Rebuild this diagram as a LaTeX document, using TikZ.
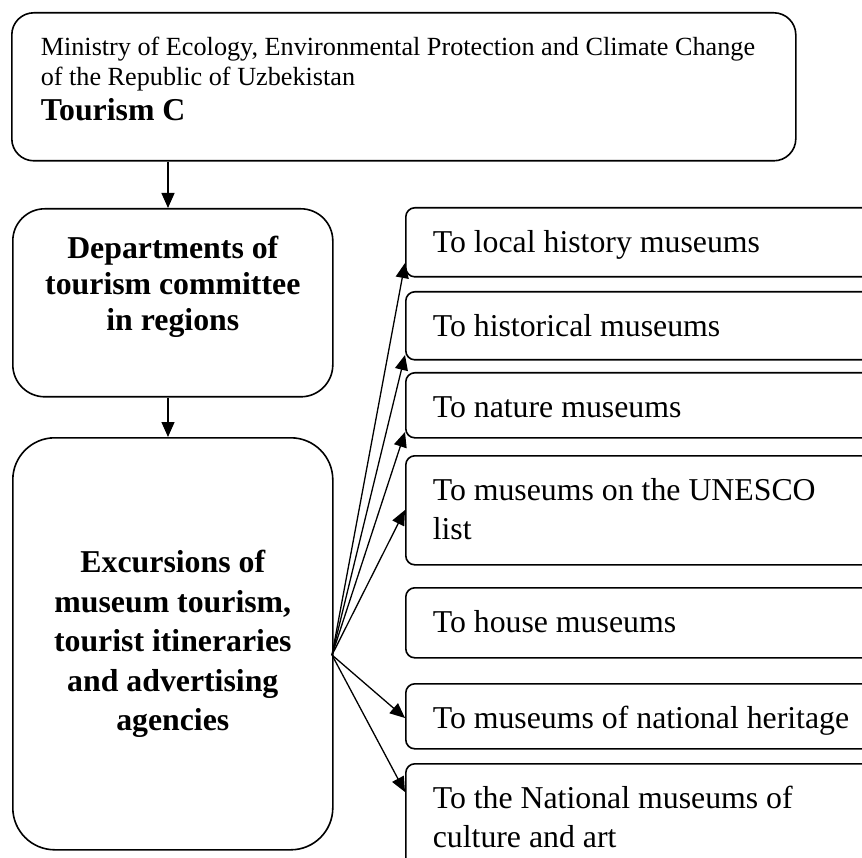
\documentclass[tikz,border=0pt]{standalone}
\usepackage{fontspec}
\setmainfont{Liberation Serif}
\usetikzlibrary{arrows.meta}
\begin{document}
\begin{tikzpicture}[x=1pt,y=-1pt,
  box/.style={draw, line width=1.6pt, inner ysep=0pt, anchor=north west},
  rbox/.style={box, rounded corners=9pt, inner xsep=27pt, text height=45pt},
  arr/.style={-{Triangle[length=15pt,width=13pt]}, line width=1.3pt}]
\useasboundingbox (0,0) rectangle (862,858);
\clip (0,0) rectangle (862,858);
% left column
\node[box, rounded corners=22pt, inner xsep=29pt, text height=43pt, text depth=105pt] (top) at (11,12)
  {\parbox[t]{726pt}{\fontsize{26.2}{30}\selectfont Ministry of Ecology, Environmental Protection and Climate Change\\
   of the Republic of Uzbekistan\\[5pt]
   {\bfseries\fontsize{31.8}{30}\selectfont Tourism C}}};
\node[box, rounded corners=32pt, inner xsep=0pt, text height=50pt, text depth=138pt] (dep) at (12,208)
  {\parbox[t]{320pt}{\centering\bfseries\fontsize{31.8}{36}\selectfont Departments of\\ tourism committee\\ in regions}};
\node[box, rounded corners=42pt, inner xsep=0pt, text height=135pt, text depth=277pt] (exc) at (12,437)
  {\parbox[t]{320pt}{\centering\bfseries\fontsize{31.8}{39.5}\selectfont Excursions of\\ museum tourism,\\ tourist itineraries\\ and advertising\\ agencies}};
% right column
\newcommand{\rtext}[1]{\parbox[t]{421pt}{\raggedright\fontsize{31.8}{39}\selectfont #1}}
\node[rbox, text depth=24pt] (b1) at (405,207) {\rtext{To local history museums}};
\node[rbox, text depth=23pt] (b2) at (405,291) {\rtext{To historical museums}};
\node[rbox, text depth=20pt] (b3) at (405,372) {\rtext{To nature museums}};
\node[rbox, text depth=64pt] (b4) at (405,455) {\rtext{To museums on the UNESCO\\ list}};
\node[rbox, text depth=25pt] (b5) at (405,587) {\rtext{To house museums}};
\node[rbox, text depth=20pt] (b6) at (405,683) {\rtext{To museums of national heritage}};
\node[rbox, text depth=92pt] (b7) at (405,763) {\rtext{To the National museums of\\ culture and art}};
% connectors
\coordinate (ax) at (168,0);
\draw[arr] (top.south -| ax) -- (dep.north -| ax);
\draw[arr] (dep.south -| ax) -- (exc.north -| ax);
\coordinate (fan) at (332,655);
\foreach \b/\y in {b1/263,b2/355,b3/432,b4/510,b6/718,b7/792}{
  \coordinate (t\b) at (0,\y);
  \draw[arr] (fan) -- (\b.west |- t\b);
}
\end{tikzpicture}
\end{document}
